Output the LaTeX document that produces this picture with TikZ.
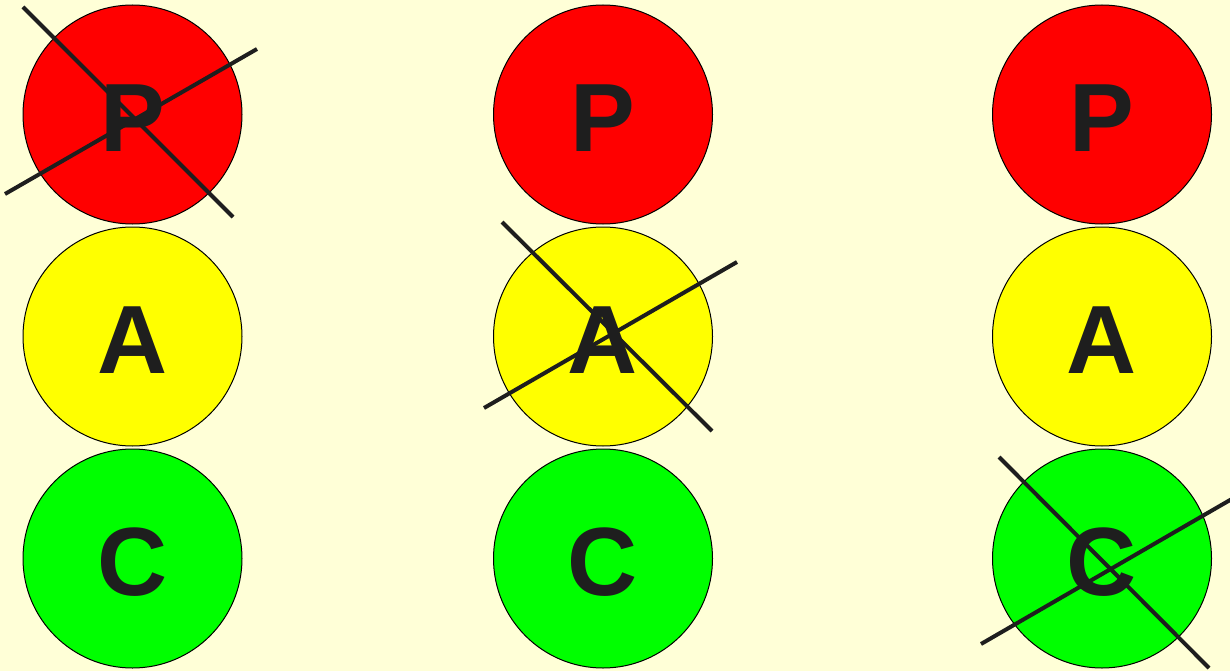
\documentclass[tikz,border=0pt]{standalone}
\usepackage{fontspec}
\setmainfont{Liberation Sans}
\usetikzlibrary{calc}
\definecolor{bgYellow}{HTML}{FFFFD7}
\definecolor{lampRed}{HTML}{FF0000}
\definecolor{lampYellow}{HTML}{FFFF00}
\definecolor{lampGreen}{HTML}{00FF00}
\definecolor{inkDark}{HTML}{1E1E1E}
\tikzset{
  lamp/.style={circle, draw=black, line width=1pt, minimum size=219pt, inner sep=0pt},
  lampletter/.style={font=\fontsize{97}{97}\selectfont\bfseries, text=inkDark, inner sep=0pt},
  crossout/.style={draw=inkDark, line width=4pt}
}
\begin{document}
\begin{tikzpicture}[x=1pt,y=-1pt]
  \fill[bgYellow] (0,0) rectangle (1230,671);
  \useasboundingbox (0,0) rectangle (1230,671);
  % lamps, left column
  \node[lamp, fill=lampRed] (p1) at (132.5,114.5) {};
  \node[lamp, fill=lampYellow] (a1) at (132.5,336.5) {};
  \node[lamp, fill=lampGreen] (c1) at (132.5,558.5) {};
  % middle column
  \node[lamp, fill=lampRed] (p2) at (603,114.5) {};
  \node[lamp, fill=lampYellow] (a2) at (603,336.5) {};
  \node[lamp, fill=lampGreen] (c2) at (603,558.5) {};
  % right column
  \node[lamp, fill=lampRed] (p3) at (1102,114.5) {};
  \node[lamp, fill=lampYellow] (a3) at (1102,336.5) {};
  \node[lamp, fill=lampGreen] (c3) at (1102,558.5) {};
  % letters
  \foreach \col in {1,2,3} {
    \node[lampletter] at ($(p\col)+(0,4)$) {P};
    \node[lampletter] at ($(a\col)+(0,4)$) {A};
    \node[lampletter] at ($(c\col)+(0,4)$) {C};
  }
  % crossed-out lamps
  \draw[crossout] ($(p1)+(-109.5,-107.5)$) -- ($(p1)+(100.5,102.5)$);
  \draw[crossout] ($(p1)+(-127.5,79.5)$) -- ($(p1)+(124.5,-65.5)$);
  \draw[crossout] ($(a2)+(-101,-114.5)$) -- ($(a2)+(109,94.5)$);
  \draw[crossout] ($(a2)+(-119,71.5)$) -- ($(a2)+(134,-74.5)$);
  \draw[crossout] ($(c3)+(-103,-101.5)$) -- ($(c3)+(107,109.5)$);
  \draw[crossout] ($(c3)+(-121,85.5)$) -- ($(c3)+(135,-62.5)$);
\end{tikzpicture}
\end{document}
